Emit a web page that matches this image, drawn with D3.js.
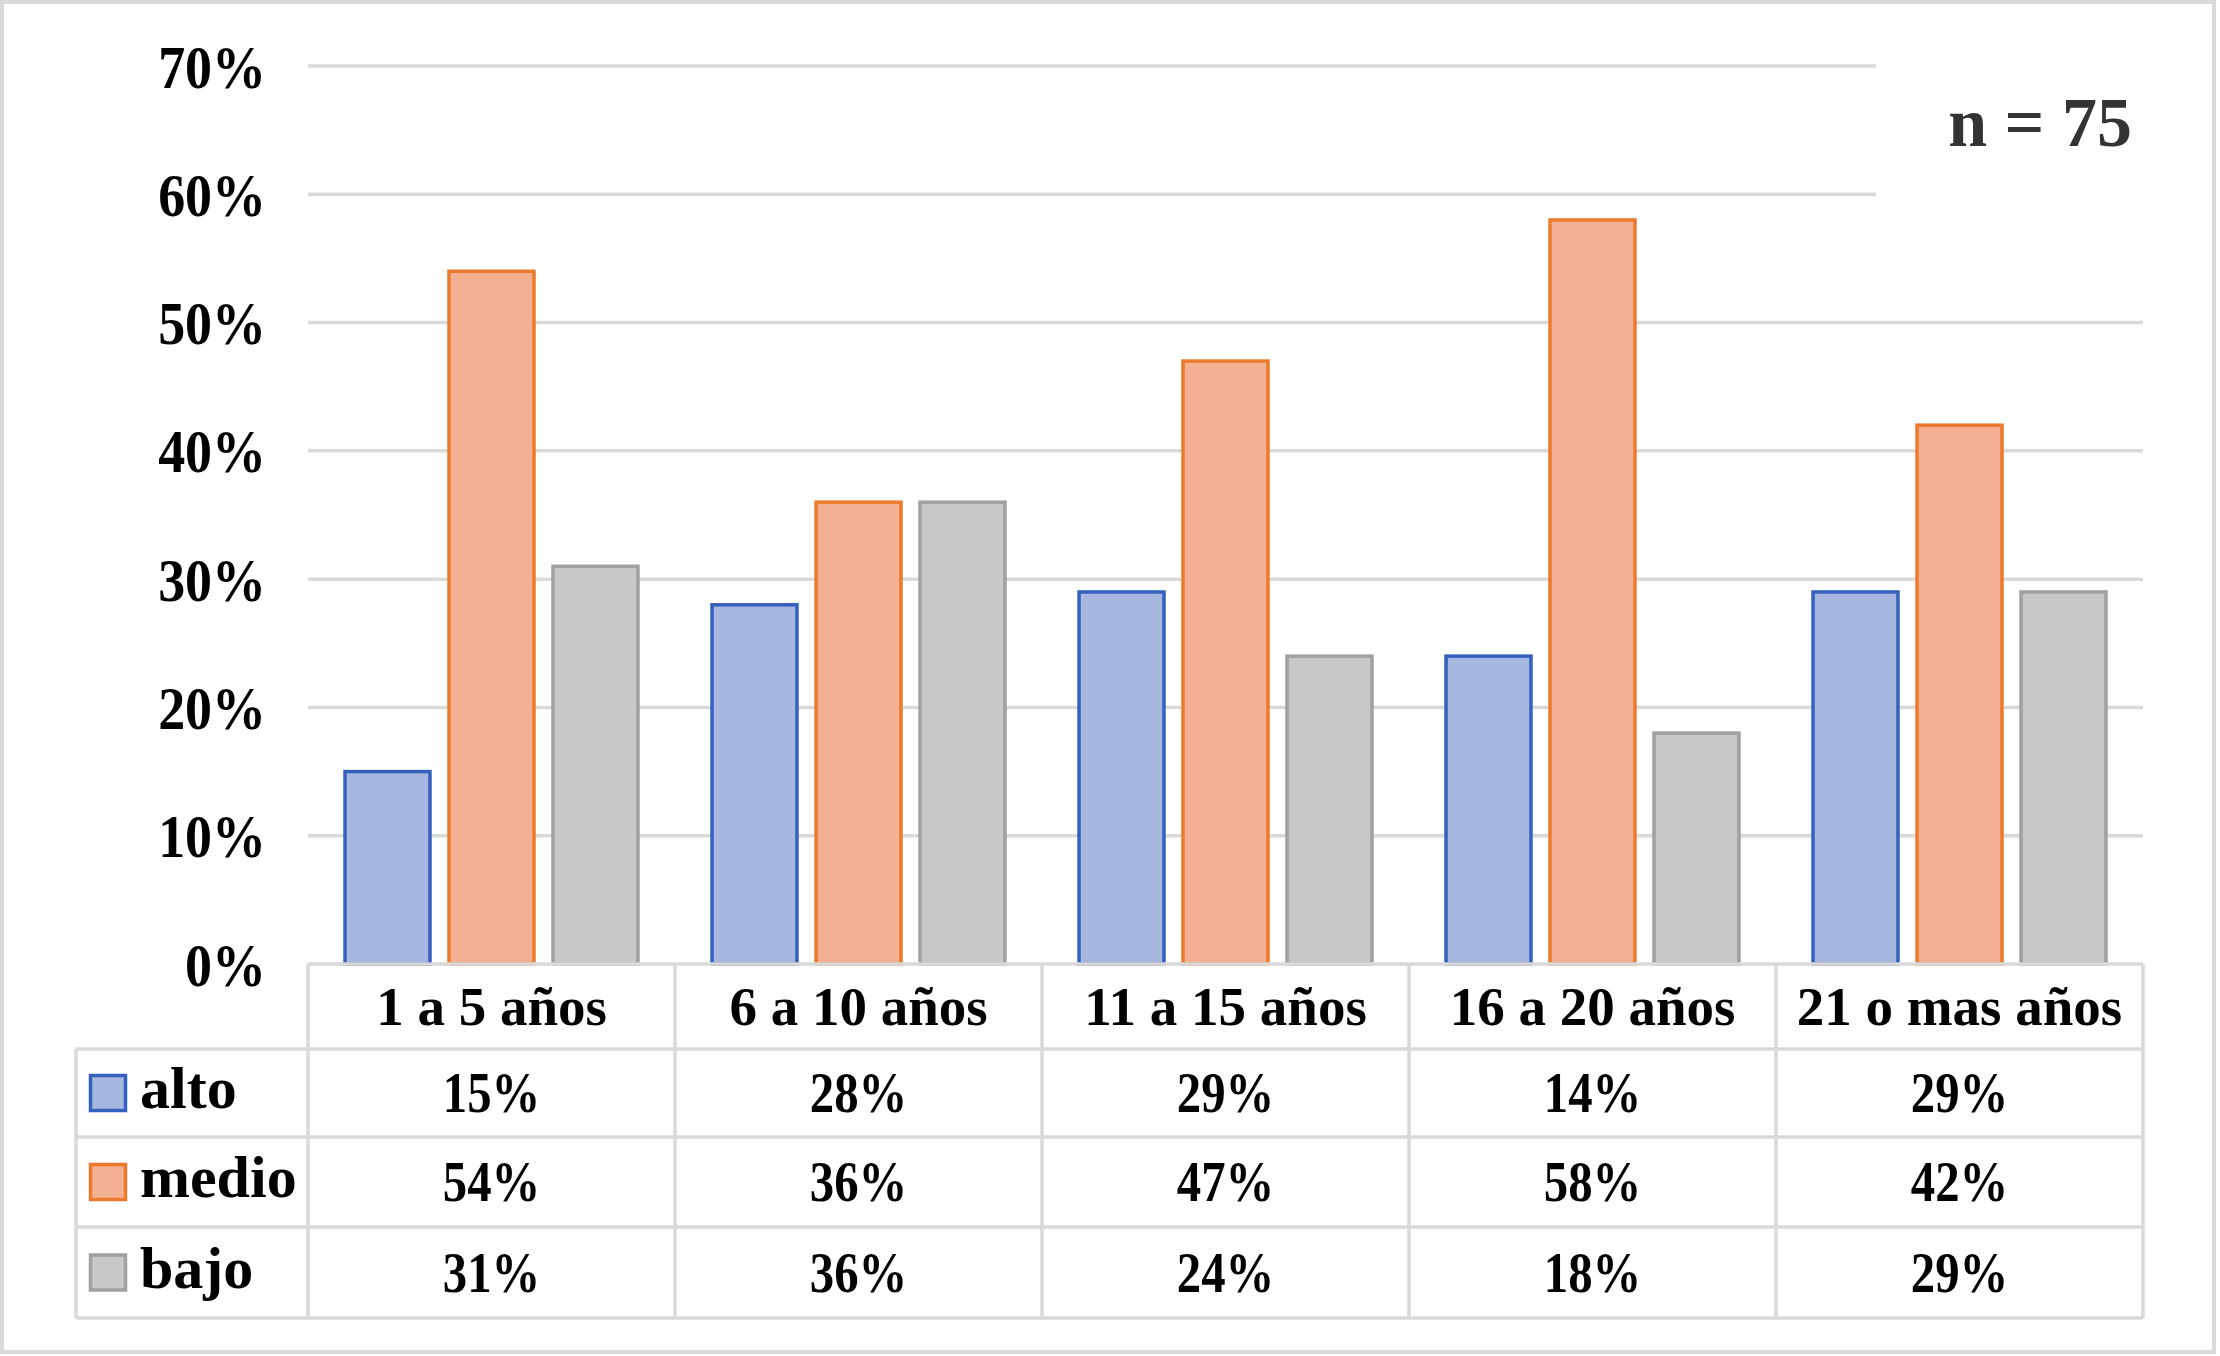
<!DOCTYPE html>
<html><head><meta charset="utf-8">
<script src="https://cdn.jsdelivr.net/npm/d3@7"></script>
<style>
html,body{margin:0;padding:0;background:#fff;}
svg{display:block;}
text{font-family:"Liberation Serif","Times New Roman",serif;font-weight:bold;}
</style></head>
<body>
<script>
// ---- data ----
const categories = ["1 a 5 años", "6 a 10 años", "11 a 15 años", "16 a 20 años", "21 o mas años"];
const seriesNames = ["alto", "medio", "bajo"];
const alto  = [0.15, 0.28, 0.29, 0.24, 0.29];
const medio = [0.54, 0.36, 0.47, 0.58, 0.42];
const bajo  = [0.31, 0.36, 0.24, 0.18, 0.29];
// values as printed in the data table under the chart
const tableAlto  = ["15%", "28%", "29%", "14%", "29%"];
const tableMedio = ["54%", "36%", "47%", "58%", "42%"];
const tableBajo  = ["31%", "36%", "24%", "18%", "29%"];
const yTicks = [0, 0.1, 0.2, 0.3, 0.4, 0.5, 0.6, 0.7];
const noteText = "n = 75";

const seriesValues = [alto, medio, bajo];
const tableValues = [tableAlto, tableMedio, tableBajo];
const fills   = ["#a7b7df", "#f4b093", "#c8c8c8"];
const strokes = ["#3461bd", "#ec7a2d", "#a0a0a0"];

const W = 2220, H = 1356;
const svg = d3.select("body").append("svg").attr("width", W).attr("height", H);
svg.append("rect").attr("width", W).attr("height", H).attr("fill", "#fff");
svg.append("rect").attr("x", 2).attr("y", 2).attr("width", 2212).attr("height", 1350)
  .attr("fill", "none").attr("stroke", "#d9d9d9").attr("stroke-width", 4);

const plotL = 308, plotR = 2143;
const y = d3.scaleLinear().domain([0, 0.7]).range([964, 66]);
const x0 = d3.scaleBand().domain(categories).range([plotL, plotR]).padding(0);
const x1 = d3.scaleBand().domain(seriesNames).range([0, x0.bandwidth()])
  .paddingInner(0.183).paddingOuter(0.356);

// gridlines (top two stop before the n = 75 note)
svg.append("g").selectAll("line").data(yTicks.filter(d => d > 0)).join("line")
  .attr("x1", plotL).attr("x2", d => d >= 0.6 ? 1876 : plotR)
  .attr("y1", d => y(d)).attr("y2", d => y(d))
  .attr("stroke", "#d9d9d9").attr("stroke-width", 3.5);

// y axis labels
const yAxis = d3.axisLeft(y).tickValues(yTicks).tickFormat(d3.format(".0%")).tickSize(0).tickPadding(0);
const ga = svg.append("g").attr("transform", "translate(266,0)").call(yAxis);
ga.select(".domain").remove();
ga.selectAll(".tick text")
  .attr("x", 0).attr("dy", null).attr("y", 21)
  .attr("transform", "scale(0.87,1)")
  .attr("font-size", 62).attr("font-family", "Liberation Serif").attr("font-weight", "bold")
  .attr("fill", "#000").attr("text-anchor", "end");

// bars
const bars = svg.append("g");
seriesNames.forEach((s, si) => {
  bars.append("g").selectAll("rect").data(categories).join("rect")
    .attr("x", c => x0(c) + x1(s))
    .attr("width", x1.bandwidth())
    .attr("y", (c, i) => y(seriesValues[si][i]))
    .attr("height", (c, i) => y(0) - y(seriesValues[si][i]))
    .attr("fill", fills[si]).attr("stroke", strokes[si]).attr("stroke-width", 3.5);
});

// data table
const rowTops = [964, 1049, 1137, 1227, 1318];
const legendL = 76;
const tg = svg.append("g");
const lc = "#d9d9d9", lw = 3.5;
// horizontal lines
rowTops.forEach((ry, i) => {
  tg.append("line").attr("x1", i === 0 ? plotL : legendL).attr("x2", plotR)
    .attr("y1", ry).attr("y2", ry).attr("stroke", lc).attr("stroke-width", lw);
});
// vertical lines
const colEdges = categories.map(c => x0(c)).concat([plotR]);
colEdges.forEach(cx => {
  tg.append("line").attr("x1", cx).attr("x2", cx).attr("y1", rowTops[0]).attr("y2", rowTops[4])
    .attr("stroke", lc).attr("stroke-width", lw);
});
tg.append("line").attr("x1", legendL).attr("x2", legendL).attr("y1", rowTops[1]).attr("y2", rowTops[4])
  .attr("stroke", lc).attr("stroke-width", lw);

// header
tg.selectAll("text.hdr").data(categories).join("text").attr("class", "hdr")
  .attr("x", c => x0(c) + x0.bandwidth() / 2)
  .attr("y", (rowTops[0] + rowTops[1]) / 2 + 18.5)
  .attr("text-anchor", "middle").attr("font-size", 55).attr("fill", "#000")
  .text(c => c);

// rows
seriesNames.forEach((s, si) => {
  const cy = (rowTops[si + 1] + rowTops[si + 2]) / 2;
  tg.append("rect").attr("x", 90.5).attr("y", cy - 17.5).attr("width", 35).attr("height", 35)
    .attr("fill", fills[si]).attr("stroke", strokes[si]).attr("stroke-width", 3.5);
  tg.append("text").attr("x", 140).attr("y", cy + 15).attr("font-size", 60).attr("fill", "#000").text(s);
  tg.selectAll("text.v" + si).data(categories).join("text").attr("class", "v" + si)
    .attr("transform", (c, i) => `translate(${x0(c) + x0.bandwidth() / 2},${cy + 19}) scale(0.87,1)`)
    .attr("text-anchor", "middle").attr("font-size", 56).attr("fill", "#000")
    .text((c, i) => tableValues[si][i]);
});

// note
svg.append("text").attr("x", 2132).attr("y", 146).attr("text-anchor", "end")
  .attr("font-size", 70).attr("fill", "#333").text(noteText);
</script>
</body></html>
